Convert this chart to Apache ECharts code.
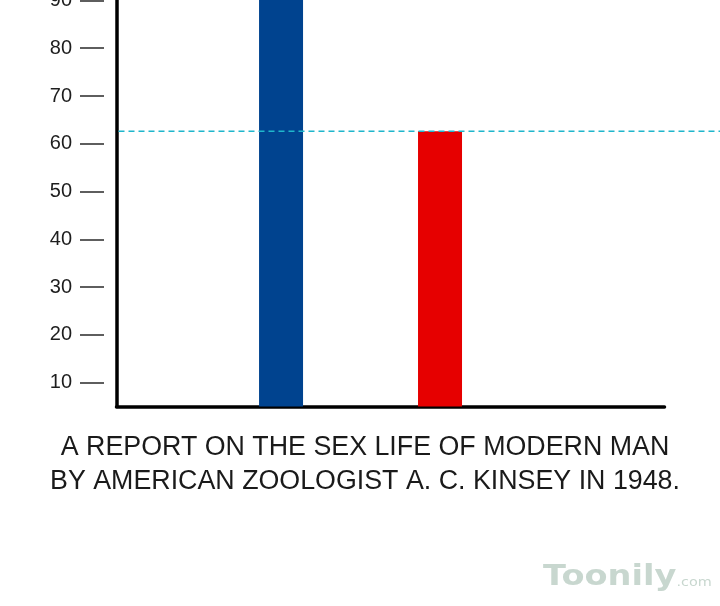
<!DOCTYPE html>
<html>
<head>
<meta charset="utf-8">
<script src="https://cdn.jsdelivr.net/npm/echarts@6/dist/echarts.min.js"></script>
<style>
html,body{margin:0;padding:0;background:#ffffff;}
#chart{width:720px;height:606px;}
</style>
</head>
<body>
<div id="chart"></div>
<script>
// ---- data ----
const categories = ['Bar A', 'Bar B'];
const barValues = [95, 62.6];
const barColors = ['#00438f', '#e60000'];
const referenceValue = 62.6;
const tickValues = [10, 20, 30, 40, 50, 60, 70, 80, 90];
const captionLines = [
  'A REPORT ON THE SEX LIFE OF MODERN MAN',
  'BY AMERICAN ZOOLOGIST A. C. KINSEY IN 1948.'
];
const watermark = 'Toonily';
const watermarkSuffix = '.com';

// ---- chart ----
const chart = echarts.init(document.getElementById('chart'), null, {renderer: 'canvas'});
const yMin = 5, yMax = 90.1;
const font = '"Liberation Sans", Arial, Helvetica, sans-serif';

const option = {
  backgroundColor: '#ffffff',
  animation: false,
  grid: [
    {left: 116.5, right: 55.5, top: 0, bottom: 199.5, containLabel: false, outerBoundsMode: 'none'},
    {left: 118.5, right: 0, top: 0, bottom: 199.5, containLabel: false, outerBoundsMode: 'none'}
  ],
  xAxis: [
    {
      type: 'value', gridIndex: 0, min: -1.035, max: 2.412,
      axisLine: {show: true, onZero: false, lineStyle: {color: '#000000', width: 3.5}},
      axisTick: {show: false}, axisLabel: {show: false}, splitLine: {show: false}
    },
    {
      type: 'value', gridIndex: 1, min: 0, max: 1, show: false
    }
  ],
  yAxis: [
    {
      type: 'value', gridIndex: 0, min: yMin, max: yMax,
      axisLine: {show: true, onZero: false, lineStyle: {color: '#000000', width: 3.5}},
      axisTick: {show: false}, axisLabel: {show: false}, splitLine: {show: false}
    },
    {
      type: 'value', gridIndex: 0, min: yMin, max: yMax, position: 'left', offset: 12.5,
      axisLine: {show: false, onZero: false},
      axisTick: {show: true, length: 24, customValues: tickValues,
        lineStyle: {color: '#2a2a2a', width: 1.5}},
      axisLabel: {show: true, customValues: tickValues, margin: 32,
        fontSize: 20, color: '#1e1e1e', fontFamily: font},
      splitLine: {show: false}
    },
    {
      type: 'value', gridIndex: 1, min: yMin, max: yMax, show: false
    }
  ],
  series: [
    {
      type: 'bar', xAxisIndex: 0, yAxisIndex: 0, barWidth: 44, clip: true,
      data: barValues.map((v, i) => ({name: categories[i], value: [i, v], itemStyle: {color: barColors[i]}}))
    },
    {
      type: 'line', xAxisIndex: 1, yAxisIndex: 2, symbol: 'none', silent: true,
      lineStyle: {color: '#1fb6cc', width: 1.5, type: [6, 4], opacity: 1},
      data: [[0, referenceValue], [1, referenceValue]]
    }
  ],
  graphic: [
    {
      type: 'text', x: 365, y: 448,
      style: {text: captionLines[0], font: 'normal 26.8px ' + font, fill: '#1a1a1a',
        textAlign: 'center', textVerticalAlign: 'middle'}
    },
    {
      type: 'text', x: 365, y: 482,
      style: {text: captionLines[1], font: 'normal 26.8px ' + font, fill: '#1a1a1a',
        textAlign: 'center', textVerticalAlign: 'middle'}
    },
    {
      type: 'text', x: 543, y: 592, scaleX: 1.2, scaleY: 1,
      style: {
        text: '{a|' + watermark + '}{b|' + watermarkSuffix + '}',
        textVerticalAlign: 'bottom',
        rich: {
          a: {fontSize: 28, fontWeight: 'bold', fontFamily: '"DejaVu Sans", sans-serif', fill: '#c8d7cf'},
          b: {fontSize: 12, fontFamily: '"DejaVu Sans", sans-serif', fill: '#c8d7cf', verticalAlign: 'bottom', padding: [0, 0, 3, 0]}
        }
      }
    }
  ]
};
chart.setOption(option);
</script>
</body>
</html>
